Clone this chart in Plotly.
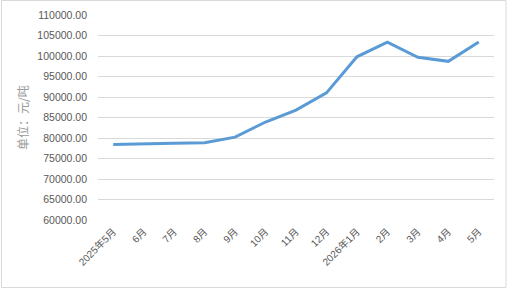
import plotly.graph_objects as go

categories = ["2025年5月", "6月", "7月", "8月", "9月", "10月", "11月", "12月",
              "2026年1月", "2月", "3月", "4月", "5月"]
prices = [78400, 78650, 78750, 78850, 80200, 83900, 86800, 91000,
          99800, 103400, 99700, 98700, 103400]
y_ticks = [60000, 65000, 70000, 75000, 80000, 85000, 90000, 95000,
           100000, 105000, 110000]
y_title = "单位：元/吨"

W, H = 509, 289
L, R, T, B = 98, 15, 15, 69

fig = go.Figure()
fig.add_trace(go.Scatter(
    x=categories, y=prices, mode="lines",
    line=dict(color="#5B9BD5", width=3),
    hoverinfo="x+y",
))

fig.update_layout(
    width=W, height=H,
    margin=dict(l=L, r=R, t=T, b=B, autoexpand=False),
    paper_bgcolor="white", plot_bgcolor="white",
    showlegend=False,
    font=dict(family="Liberation Sans, Arial, sans-serif", size=10.5, color="#595959"),
    xaxis=dict(
        type="category",
        range=[-0.5, len(categories) - 0.5],
        tickangle=-45,
        tickfont=dict(family="Liberation Sans, Noto Sans CJK SC, sans-serif", size=10, color="#595959"),
        showgrid=False, zeroline=False, showline=False,
        ticks="",
        ticklabelstandoff=3,
    ),
    yaxis=dict(
        range=[60000, 110000],
        tickvals=y_ticks,
        ticktext=[f"{v:.2f}" for v in y_ticks],
        showgrid=True, gridcolor="#D9D9D9", gridwidth=1,
        zeroline=False, showline=False, ticks="",
        ticklabelstandoff=10,
        tickfont=dict(size=10.5, color="#595959"),
    ),
)

fig.add_annotation(
    text=y_title, textangle=-90,
    xref="paper", yref="paper",
    x=(22 - L) / (W - L - R), y=(H - B - 118) / (H - T - B),
    xanchor="center", yanchor="middle", showarrow=False,
    font=dict(family="Noto Sans CJK SC, sans-serif", size=12, color="#9A9A9A"),
)

pw, ph = W - L - R, H - T - B
fig.add_shape(
    type="rect", xref="paper", yref="paper",
    x0=(1.5 - L) / pw, x1=(506 - L) / pw,
    y0=(H - B - 287.5) / ph, y1=(H - B - 0.5) / ph,
    line=dict(color="#D9D9D9", width=1), layer="below",
)

fig.write_html("out.html")
